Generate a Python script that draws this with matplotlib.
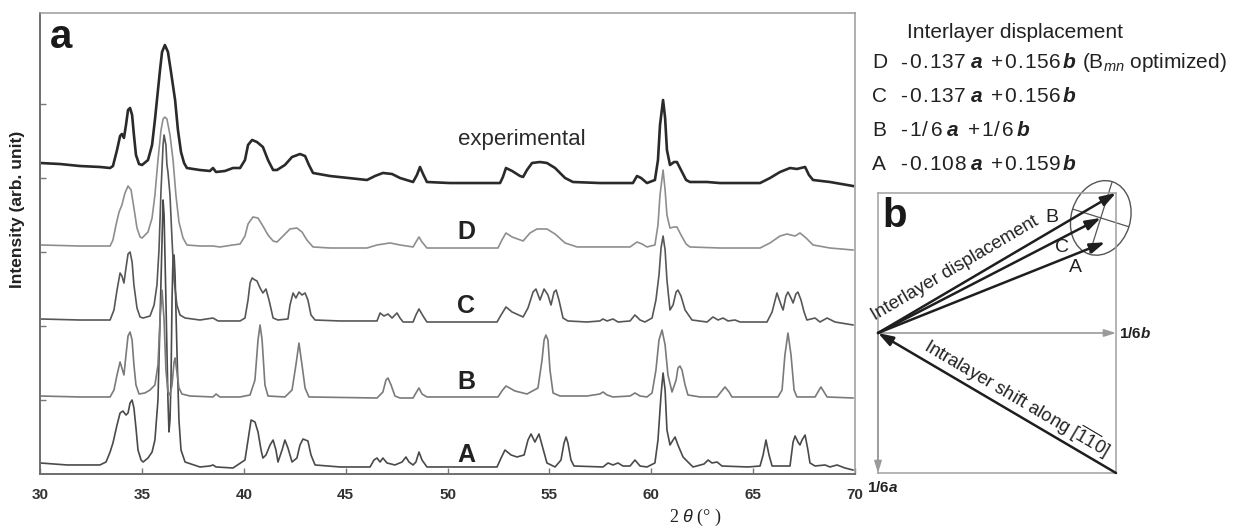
import math
import matplotlib
matplotlib.use("Agg")
import matplotlib.pyplot as plt
import matplotlib.transforms as mtrans
from matplotlib.patches import Ellipse
from matplotlib.lines import Line2D

plt.rcParams['font.family'] = ['Liberation Sans', 'DejaVu Sans']
plt.rcParams['mathtext.fontset'] = 'custom'
plt.rcParams['mathtext.rm'] = 'Liberation Sans'
plt.rcParams['mathtext.it'] = 'Liberation Sans:italic'
plt.rcParams['mathtext.bf'] = 'Liberation Sans:bold'
HAS_BFIT = 'mathtext.bfit' in plt.rcParams
if HAS_BFIT:
    plt.rcParams['mathtext.bfit'] = 'Liberation Sans:bold:italic'
BI = r'\mathbfit' if HAS_BFIT else r'\mathbf'

# ---------------- data: XRD patterns (2theta in degrees, stacked intensity, arb. unit) ----------
exp_x = [30.00, 30.98, 31.96, 32.94, 33.44, 33.58, 33.78, 33.93, 34.02, 34.12, 34.22, 34.32, 34.42, 34.52,
         34.61, 34.71, 34.86, 35.01, 35.30, 35.50, 35.64, 35.74, 35.89, 35.99, 36.13, 36.28, 36.43, 36.63,
         36.77, 36.92, 37.07, 37.21, 37.85, 38.34, 38.49, 38.64, 39.08, 39.47, 39.82, 40.06, 40.21, 40.41,
         40.65, 40.94, 41.19, 41.44, 41.63, 42.02, 42.37, 42.76, 43.01, 43.20, 43.40, 44.23, 46.05, 46.44,
         46.83, 47.28, 47.67, 48.31, 48.50, 48.65, 48.80, 48.99, 50.12, 52.58, 52.72, 52.87, 53.17, 53.56,
         53.71, 53.90, 54.15, 54.54, 54.88, 55.28, 55.77, 56.16, 57.48, 59.10, 59.30, 59.50, 59.79, 60.18,
         60.33, 60.43, 60.58, 60.68, 60.77, 60.92, 61.12, 61.26, 61.46, 61.71, 61.90, 62.74, 63.37, 65.34,
         65.83, 66.32, 66.81, 67.15, 67.55, 67.74, 67.94, 68.77, 69.90]
exp_y = [4.203, 4.189, 4.162, 4.149, 4.135, 4.162, 4.378, 4.568, 4.595, 4.541, 4.716, 4.919, 4.946, 4.851,
         4.581, 4.311, 4.189, 4.176, 4.243, 4.446, 4.784, 5.054, 5.459, 5.703, 5.797, 5.703, 5.432, 5.054,
         4.649, 4.351, 4.203, 4.135, 4.108, 4.095, 4.135, 4.081, 4.095, 4.135, 4.135, 4.243, 4.446, 4.514,
         4.486, 4.419, 4.243, 4.108, 4.108, 4.176, 4.284, 4.324, 4.297, 4.176, 4.068, 4.027, 3.973, 4.027,
         4.068, 4.054, 4.000, 3.946, 4.041, 4.149, 4.054, 3.946, 3.932, 3.932, 4.014, 4.135, 4.095, 4.027,
         4.014, 4.108, 4.203, 4.216, 4.203, 4.135, 4.000, 3.946, 3.932, 3.932, 4.027, 4.000, 3.932, 3.973,
         4.243, 4.716, 5.054, 4.811, 4.378, 4.176, 4.216, 4.216, 4.108, 3.973, 3.946, 3.946, 3.932, 3.932,
         4.000, 4.081, 4.135, 4.122, 4.149, 4.041, 3.973, 3.946, 3.892]

D_x = [30.00, 31.96, 33.44, 33.58, 33.73, 33.88, 34.02, 34.17, 34.32, 34.47, 34.61, 34.76, 34.91, 35.01,
       35.30, 35.50, 35.64, 35.79, 35.94, 36.04, 36.13, 36.23, 36.38, 36.53, 36.67, 36.82, 37.02, 37.21,
       37.85, 38.49, 38.83, 39.47, 39.82, 40.06, 40.21, 40.45, 40.70, 40.94, 41.19, 41.44, 41.63, 41.93,
       42.27, 42.61, 42.86, 43.10, 43.40, 44.23, 46.05, 46.54, 47.18, 47.67, 48.31, 48.45, 48.60, 48.75,
       48.99, 52.48, 52.67, 52.87, 53.17, 53.71, 54.05, 54.39, 54.88, 55.28, 55.77, 56.36, 58.96, 59.30,
       59.55, 59.79, 60.18, 60.33, 60.43, 60.58, 60.68, 60.77, 60.92, 61.12, 61.26, 61.46, 61.71, 61.90,
       63.37, 65.34, 65.83, 66.32, 66.66, 67.06, 67.30, 67.60, 67.94, 68.77, 69.90]
D_y = [3.095, 3.081, 3.081, 3.162, 3.365, 3.541, 3.635, 3.797, 3.892, 3.838, 3.595, 3.324, 3.203, 3.189,
       3.270, 3.459, 3.770, 4.243, 4.649, 4.797, 4.824, 4.797, 4.581, 4.243, 3.770, 3.405, 3.189, 3.095,
       3.081, 3.081, 3.068, 3.095, 3.108, 3.216, 3.378, 3.473, 3.459, 3.351, 3.230, 3.149, 3.135, 3.216,
       3.311, 3.324, 3.270, 3.162, 3.068, 3.054, 3.054, 3.095, 3.122, 3.095, 3.068, 3.135, 3.203, 3.135,
       3.054, 3.054, 3.162, 3.257, 3.203, 3.149, 3.257, 3.311, 3.311, 3.243, 3.122, 3.068, 3.068, 3.135,
       3.108, 3.068, 3.095, 3.365, 3.770, 4.108, 3.838, 3.500, 3.324, 3.338, 3.338, 3.230, 3.108, 3.068,
       3.054, 3.054, 3.122, 3.216, 3.243, 3.216, 3.257, 3.189, 3.095, 3.054, 3.027]

C_x = [30.00, 31.96, 33.44, 33.63, 33.78, 33.93, 34.02, 34.12, 34.22, 34.32, 34.42, 34.52, 34.61, 34.76,
       34.91, 35.06, 35.40, 35.60, 35.74, 35.84, 35.94, 36.04, 36.09, 36.18, 36.23, 36.28, 36.38, 36.48,
       36.58, 36.72, 36.87, 37.12, 37.85, 38.49, 38.74, 39.82, 40.06, 40.21, 40.31, 40.41, 40.55, 40.65,
       40.80, 40.94, 41.09, 41.24, 41.44, 41.68, 42.17, 42.27, 42.42, 42.56, 42.71, 42.86, 43.01, 43.15,
       43.30, 43.50, 44.72, 46.54, 46.69, 46.88, 47.08, 47.28, 47.52, 47.67, 47.82, 48.31, 48.45, 48.60,
       48.80, 48.99, 52.43, 52.63, 52.87, 53.17, 53.71, 53.95, 54.20, 54.34, 54.54, 54.74, 54.93, 55.08,
       55.23, 55.33, 55.47, 55.67, 55.91, 56.85, 57.48, 57.63, 57.83, 58.12, 58.37, 58.96, 59.20, 59.45,
       59.69, 60.04, 60.23, 60.38, 60.48, 60.58, 60.68, 60.77, 60.92, 61.07, 61.22, 61.31, 61.46, 61.66,
       62.00, 62.74, 63.03, 63.28, 63.52, 63.77, 64.11, 64.36, 65.68, 65.93, 66.17, 66.37, 66.47, 66.61,
       66.71, 66.86, 66.96, 67.10, 67.20, 67.35, 67.50, 67.64, 68.04, 68.28, 68.63, 69.02, 69.90]
C_y = [2.095, 2.081, 2.081, 2.216, 2.486, 2.716, 2.676, 2.581, 2.784, 2.973, 3.000, 2.865, 2.554, 2.243,
       2.122, 2.108, 2.135, 2.284, 2.554, 3.027, 3.838, 4.446, 4.581, 4.446, 4.176, 4.081, 3.770, 3.162,
       2.622, 2.284, 2.149, 2.108, 2.081, 2.108, 2.068, 2.068, 2.108, 2.351, 2.581, 2.649, 2.622, 2.608,
       2.514, 2.446, 2.500, 2.351, 2.108, 2.081, 2.095, 2.284, 2.446, 2.378, 2.459, 2.419, 2.446, 2.351,
       2.149, 2.081, 2.068, 2.068, 2.176, 2.135, 2.162, 2.108, 2.176, 2.108, 2.054, 2.054, 2.149, 2.230,
       2.135, 2.054, 2.054, 2.149, 2.257, 2.189, 2.122, 2.243, 2.459, 2.500, 2.351, 2.500, 2.419, 2.284,
       2.459, 2.486, 2.351, 2.108, 2.068, 2.054, 2.068, 2.095, 2.068, 2.095, 2.054, 2.068, 2.149, 2.081,
       2.054, 2.108, 2.351, 2.689, 3.054, 3.216, 3.027, 2.622, 2.216, 2.284, 2.459, 2.486, 2.405, 2.216,
       2.081, 2.054, 2.122, 2.081, 2.108, 2.068, 2.081, 2.054, 2.054, 2.189, 2.446, 2.284, 2.216, 2.405,
       2.459, 2.378, 2.311, 2.432, 2.459, 2.351, 2.189, 2.081, 2.108, 2.054, 2.108, 2.054, 2.014]

B_x = [30.00, 31.96, 33.44, 33.63, 33.78, 33.93, 34.02, 34.12, 34.22, 34.32, 34.42, 34.52, 34.61, 34.71,
       34.86, 35.15, 35.40, 35.64, 35.79, 35.89, 35.99, 36.09, 36.18, 36.28, 36.38, 36.48, 36.58, 36.63,
       36.72, 36.82, 36.97, 37.36, 38.49, 38.64, 38.83, 39.82, 40.31, 40.55, 40.70, 40.80, 40.90, 41.04,
       41.19, 42.02, 42.37, 42.56, 42.71, 42.86, 43.01, 43.20, 46.54, 46.83, 46.98, 47.08, 47.23, 47.42,
       47.67, 48.31, 48.45, 48.60, 48.75, 48.99, 52.48, 52.67, 52.87, 53.31, 53.90, 54.44, 54.64, 54.74,
       54.83, 54.93, 55.03, 55.18, 55.52, 56.85, 57.48, 57.63, 57.83, 58.12, 58.96, 59.20, 59.45, 59.79,
       60.04, 60.23, 60.38, 60.53, 60.68, 60.82, 61.02, 61.22, 61.31, 61.41, 61.51, 61.66, 61.80, 62.39,
       63.23, 63.42, 63.62, 63.82, 63.96, 66.22, 66.42, 66.56, 66.71, 66.86, 67.01, 67.15, 68.04, 68.18,
       68.33, 68.48, 68.63, 69.90]
B_y = [1.054, 1.041, 1.041, 1.135, 1.338, 1.514, 1.432, 1.338, 1.608, 1.865, 1.919, 1.811, 1.473, 1.203,
       1.081, 1.095, 1.135, 1.203, 1.473, 2.081, 2.486, 2.081, 1.405, 1.108, 1.068, 1.203, 1.514, 1.568,
       1.378, 1.162, 1.081, 1.054, 1.041, 1.081, 1.041, 1.041, 1.068, 1.270, 1.811, 2.014, 1.811, 1.203,
       1.054, 1.041, 1.135, 1.473, 1.770, 1.473, 1.162, 1.041, 1.027, 1.108, 1.270, 1.297, 1.203, 1.054,
       1.027, 1.027, 1.095, 1.162, 1.081, 1.041, 1.041, 1.122, 1.189, 1.122, 1.081, 1.162, 1.541, 1.811,
       1.878, 1.811, 1.405, 1.095, 1.054, 1.054, 1.081, 1.108, 1.068, 1.041, 1.054, 1.095, 1.054, 1.041,
       1.095, 1.405, 1.811, 1.946, 1.743, 1.338, 1.108, 1.270, 1.432, 1.459, 1.405, 1.203, 1.068, 1.041,
       1.041, 1.108, 1.176, 1.108, 1.041, 1.041, 1.135, 1.608, 1.905, 1.608, 1.135, 1.041, 1.041, 1.108,
       1.176, 1.108, 1.041, 1.027]

A_x = [30.00, 31.33, 32.94, 33.24, 33.44, 33.58, 33.78, 33.93, 34.07, 34.22, 34.32, 34.42, 34.52, 34.61,
       34.71, 34.81, 34.96, 35.06, 35.30, 35.50, 35.64, 35.79, 35.89, 35.99, 36.04, 36.09, 36.18, 36.28,
       36.33, 36.38, 36.43, 36.48, 36.53, 36.58, 36.63, 36.72, 36.82, 36.92, 37.12, 37.85, 38.34, 38.49,
       38.64, 39.47, 40.06, 40.21, 40.36, 40.55, 40.70, 40.85, 40.94, 41.09, 41.29, 41.44, 41.58, 41.68,
       41.88, 42.02, 42.17, 42.37, 42.61, 42.76, 42.91, 43.15, 43.30, 43.50, 44.72, 46.20, 46.39, 46.54,
       46.69, 46.83, 47.03, 47.42, 47.77, 47.96, 48.11, 48.31, 48.45, 48.60, 48.75, 48.99, 52.43, 52.63,
       52.82, 53.12, 53.41, 53.76, 53.95, 54.10, 54.29, 54.49, 54.64, 54.88, 55.28, 55.57, 55.72, 55.82,
       55.91, 56.06, 56.21, 57.63, 57.88, 58.12, 58.37, 58.61, 58.96, 59.20, 59.45, 59.79, 60.18, 60.33,
       60.48, 60.58, 60.68, 60.77, 60.92, 61.07, 61.17, 61.31, 61.56, 61.80, 62.05, 62.59, 62.79, 62.98,
       63.23, 63.47, 64.75, 65.34, 65.49, 65.63, 65.78, 65.93, 66.81, 66.96, 67.06, 67.20, 67.30, 67.40,
       67.55, 67.69, 67.79, 68.04, 68.53, 68.77, 69.12, 69.51, 69.90]
A_y = [0.149, 0.122, 0.122, 0.162, 0.297, 0.419, 0.662, 0.824, 0.851, 0.797, 0.824, 0.959, 1.000, 0.892,
       0.622, 0.324, 0.189, 0.162, 0.216, 0.297, 0.459, 1.000, 2.081, 3.162, 3.703, 3.500, 2.351, 1.000,
       0.568, 0.730, 1.270, 2.351, 2.959, 2.959, 2.689, 1.676, 0.730, 0.324, 0.162, 0.095, 0.108, 0.122,
       0.095, 0.081, 0.189, 0.459, 0.730, 0.703, 0.568, 0.324, 0.216, 0.257, 0.392, 0.459, 0.324, 0.162,
       0.324, 0.459, 0.351, 0.162, 0.216, 0.392, 0.473, 0.446, 0.257, 0.122, 0.095, 0.095, 0.189, 0.216,
       0.162, 0.216, 0.149, 0.122, 0.162, 0.230, 0.162, 0.122, 0.162, 0.297, 0.189, 0.095, 0.095, 0.216,
       0.324, 0.257, 0.230, 0.257, 0.459, 0.541, 0.432, 0.541, 0.392, 0.149, 0.095, 0.189, 0.419, 0.500,
       0.419, 0.189, 0.108, 0.095, 0.149, 0.122, 0.149, 0.108, 0.108, 0.189, 0.108, 0.095, 0.149, 0.459,
       1.068, 1.365, 1.135, 0.595, 0.392, 0.459, 0.500, 0.392, 0.230, 0.162, 0.095, 0.135, 0.189, 0.149,
       0.162, 0.108, 0.095, 0.108, 0.257, 0.459, 0.257, 0.108, 0.108, 0.432, 0.514, 0.432, 0.392, 0.459,
       0.527, 0.324, 0.149, 0.108, 0.122, 0.095, 0.122, 0.081, 0.054]

x_ticks = [30, 35, 40, 45, 50, 55, 60, 65, 70]
y_ticks = [1, 2, 3, 4, 5]

# ---------------- data: interlayer displacements (fractions of a and b) ----------
model_labels = ['D', 'C', 'B', 'A']
disp_a_text = ['-0.137', '-0.137', '-1/6', '-0.108']
disp_b_text = ['+0.156', '+0.156', '+1/6', '+0.159']
arrow_labels = ['B', 'C', 'A']
arrow_a = [-1/6, -0.137, -0.108]
arrow_b = [1/6, 0.156, 0.159]
cell_frac = 1/6

# ---------------- layout helpers (pixel -> figure fraction) ----------
W, H = 1244, 527
fig = plt.figure(figsize=(W/100, H/100), dpi=100)
def fx(px):
    return px / W
def fy(py):
    return 1 - py / H

TXT = '#222222'

# ---------------- panel a ----------
ax = fig.add_axes([fx(40), fy(474), fx(855) - fx(40), fy(13) - fy(474)])
ax.plot(A_x, A_y, color='#4a4a4a', lw=1.2)
ax.plot(B_x, B_y, color='#7a7a7a', lw=1.2)
ax.plot(C_x, C_y, color='#575757', lw=1.2)
ax.plot(D_x, D_y, color='#8e8e8e', lw=1.2)
ax.plot(exp_x, exp_y, color='#2a2a2a', lw=1.9)
ax.set_xlim(30, 70)
ax.set_ylim(0, 461 / 74)
ax.set_xticks(x_ticks)
ax.set_xticklabels([str(t) for t in x_ticks])
ax.set_yticks(y_ticks)
ax.set_yticklabels([])
ax.tick_params(axis='both', direction='in', length=4, width=1, color='#777777')
ax.tick_params(axis='x', pad=10, labelsize=11, labelcolor='#333333')
for lab in ax.get_xticklabels():
    lab.set_fontweight('bold')
for side in ['top', 'right']:
    ax.spines[side].set_color('#9a9a9a')
    ax.spines[side].set_linewidth(1.1)
for side in ['left', 'bottom']:
    ax.spines[side].set_color('#6e6e6e')
    ax.spines[side].set_linewidth(1.4)

fig.text(fx(50), fy(48), 'a', fontsize=29, fontweight='bold', color='#1a1a1a', ha='left', va='baseline')
fig.text(fx(458), fy(140), 'experimental', fontsize=16, color='#2a2a2a', ha='left', va='center')
for lab, py in zip(['D', 'C', 'B', 'A'], [232, 306, 382, 455]):
    fig.text(fx(466), fy(py), lab, fontsize=18, fontweight='bold', color=TXT, ha='center', va='center')
fig.text(fx(18), fy(209), 'Intensity (arb. unit)', rotation=90, fontsize=12.5, fontweight='bold',
         color=TXT, ha='center', va='center')
fig.text(fx(695), fy(517), r'2 $\it{\theta}$ (° )', fontsize=13, family=['Liberation Serif', 'DejaVu Serif'],
         color=TXT, ha='center', va='center')

# ---------------- legend text (top right) ----------
LFS = 15
ADV = {'-': 9.5, '+': 13.0, '.': 7.0, '/': 8.5}
def spaced(x, py, s):
    """draw a number string with the loose letter spacing of the original; returns end x (px)"""
    for ch in s:
        fig.text(fx(x), fy(py), ch, fontsize=LFS, color=TXT, ha='left', va='center')
        x += ADV.get(ch, 12.5)
    return x

fig.text(fx(907), fy(33), 'Interlayer displacement', fontsize=LFS, color=TXT, ha='left', va='center')
legend_rows = [63, 96, 130, 164]
for lab, sa, sb, py in zip(model_labels, disp_a_text, disp_b_text, legend_rows):
    fig.text(fx(872), fy(py), lab, fontsize=LFS, color=TXT, ha='left', va='center')
    x = spaced(900, py, sa)
    fig.text(fx(x + 3), fy(py), r'$' + BI + r'{a}$', fontsize=LFS, color=TXT, ha='left', va='center')
    x = spaced(x + 25, py, sb)
    fig.text(fx(x + 1), fy(py), r'$' + BI + r'{b}$', fontsize=LFS, color=TXT, ha='left', va='center')
    if lab == 'D':
        fig.text(fx(x + 20), fy(py), r'(B$_{\mathit{mn}}$ optimized)', fontsize=LFS, color=TXT,
                 ha='left', va='center')

# ---------------- panel b ----------
axb = fig.add_axes([fx(878), fy(473), fx(1116) - fx(878), fy(193) - fy(473)])
axb.set_xlim(0, cell_frac)
axb.set_ylim(cell_frac, -cell_frac)
axb.set_xticks([])
axb.set_yticks([])
for sp in axb.spines.values():
    sp.set_color('#a0a0a0')
    sp.set_linewidth(1.1)

gray_arrow = dict(arrowstyle='-|>,head_length=0.7,head_width=0.22', color='#9a9a9a', lw=1.2,
                  shrinkA=0, shrinkB=0)
axb.annotate('', xy=(cell_frac, 0), xytext=(0, 0), arrowprops=gray_arrow, annotation_clip=False)
axb.annotate('', xy=(0, cell_frac), xytext=(0, 0), arrowprops=gray_arrow, annotation_clip=False)

black_arrow = dict(arrowstyle='-|>,head_length=0.9,head_width=0.3', color='#1e1e1e', lw=1.8,
                   shrinkA=0, shrinkB=0)
for da, db in zip(arrow_a, arrow_b):
    axb.annotate('', xy=(db, da), xytext=(0, 0), arrowprops=black_arrow, annotation_clip=False)
axb.annotate('', xy=(0, 0), xytext=(cell_frac, cell_frac), arrowprops=black_arrow, annotation_clip=False)

# uncertainty ellipse around C
cb, ca = arrow_b[1], arrow_a[1]
etrans = fig.dpi_scale_trans + mtrans.ScaledTranslation(cb, ca, axb.transData)
axb.add_patch(Ellipse((0, 0), 0.76, 0.59, angle=72.5, transform=etrans, fill=False,
                      edgecolor='#555555', lw=1.0, clip_on=False))
for ang, half in [(72.5, 0.37), (-17.5, 0.29)]:
    dx = half * math.cos(math.radians(ang))
    dy = half * math.sin(math.radians(ang))
    axb.add_line(Line2D([-dx, dx], [-dy, dy], transform=etrans, color='#555555', lw=0.9, clip_on=False))

fig.text(fx(895), fy(216), 'b', fontsize=29, fontweight='bold', color='#1a1a1a', ha='center', va='center')
for lab, (px, py) in zip(arrow_labels, [(1052, 218), (1062, 248), (1075, 267)]):
    fig.text(fx(px), fy(py), lab, fontsize=14, color=TXT, ha='center', va='center')
fig.text(fx(955), fy(268), 'Interlayer displacement', fontsize=13.3, rotation=30.4, rotation_mode='anchor',
         color=TXT, ha='center', va='center')
fig.text(fx(1017), fy(398), r'Intralayer shift along [$\overline{1}\overline{1}$0]', fontsize=13.2,
         rotation=-30.5, rotation_mode='anchor', color=TXT, ha='center', va='center')
fig.text(fx(1119), fy(333), r'1/6$' + BI + r'{b}$', fontsize=11, fontweight='bold', color=TXT,
         ha='left', va='center')
fig.text(fx(867), fy(487), r'1/6$' + BI + r'{a}$', fontsize=11, fontweight='bold', color=TXT,
         ha='left', va='center')

fig.savefig('out.png', dpi=100)
